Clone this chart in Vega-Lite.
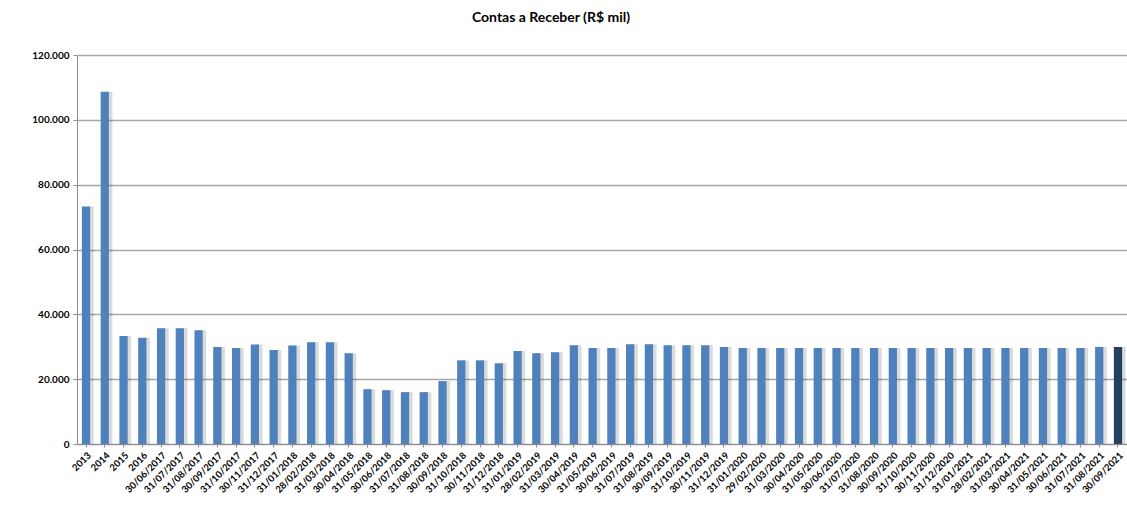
{
  "$schema": "https://vega.github.io/schema/vega-lite/v6.json",
  "width": 1050,
  "height": 389,
  "autosize": {"type": "none"},
  "padding": {"left": 77, "top": 55, "right": 0, "bottom": 85},
  "background": "white",
  "title": {
    "text": "Contas a Receber (R$ mil)",
    "font": "Lato",
    "fontSize": 14,
    "fontWeight": "bold",
    "color": "#000000",
    "anchor": "middle",
    "frame": "group",
    "dx": -51,
    "offset": 25
  },
  "data": {
    "values": [
      {"periodo": "2013", "valor": 73300},
      {"periodo": "2014", "valor": 108700},
      {"periodo": "2015", "valor": 33300},
      {"periodo": "2016", "valor": 32800},
      {"periodo": "30/06/2017", "valor": 35700},
      {"periodo": "31/07/2017", "valor": 35700},
      {"periodo": "31/08/2017", "valor": 35100},
      {"periodo": "30/09/2017", "valor": 29900},
      {"periodo": "31/10/2017", "valor": 29600},
      {"periodo": "30/11/2017", "valor": 30700},
      {"periodo": "31/12/2017", "valor": 29000},
      {"periodo": "31/01/2018", "valor": 30400},
      {"periodo": "28/02/2018", "valor": 31400},
      {"periodo": "31/03/2018", "valor": 31400},
      {"periodo": "30/04/2018", "valor": 28000},
      {"periodo": "31/05/2018", "valor": 16900},
      {"periodo": "30/06/2018", "valor": 16600},
      {"periodo": "31/07/2018", "valor": 16000},
      {"periodo": "31/08/2018", "valor": 16000},
      {"periodo": "30/09/2018", "valor": 19400},
      {"periodo": "31/10/2018", "valor": 25800},
      {"periodo": "30/11/2018", "valor": 25800},
      {"periodo": "31/12/2018", "valor": 24900},
      {"periodo": "31/01/2019", "valor": 28700},
      {"periodo": "28/02/2019", "valor": 28000},
      {"periodo": "31/03/2019", "valor": 28300},
      {"periodo": "30/04/2019", "valor": 30500},
      {"periodo": "31/05/2019", "valor": 29600},
      {"periodo": "30/06/2019", "valor": 29600},
      {"periodo": "31/07/2019", "valor": 30800},
      {"periodo": "31/08/2019", "valor": 30800},
      {"periodo": "30/09/2019", "valor": 30500},
      {"periodo": "31/10/2019", "valor": 30500},
      {"periodo": "30/11/2019", "valor": 30500},
      {"periodo": "31/12/2019", "valor": 29900},
      {"periodo": "31/01/2020", "valor": 29600},
      {"periodo": "29/02/2020", "valor": 29600},
      {"periodo": "31/03/2020", "valor": 29600},
      {"periodo": "30/04/2020", "valor": 29600},
      {"periodo": "31/05/2020", "valor": 29600},
      {"periodo": "30/06/2020", "valor": 29600},
      {"periodo": "31/07/2020", "valor": 29600},
      {"periodo": "31/08/2020", "valor": 29600},
      {"periodo": "30/09/2020", "valor": 29600},
      {"periodo": "31/10/2020", "valor": 29600},
      {"periodo": "30/11/2020", "valor": 29600},
      {"periodo": "31/12/2020", "valor": 29600},
      {"periodo": "31/01/2021", "valor": 29600},
      {"periodo": "28/02/2021", "valor": 29600},
      {"periodo": "31/03/2021", "valor": 29600},
      {"periodo": "30/04/2021", "valor": 29600},
      {"periodo": "31/05/2021", "valor": 29600},
      {"periodo": "30/06/2021", "valor": 29600},
      {"periodo": "31/07/2021", "valor": 29600},
      {"periodo": "31/08/2021", "valor": 29900},
      {"periodo": "30/09/2021", "valor": 29900}
    ]
  },
  "encoding": {
    "x": {
      "field": "periodo",
      "type": "nominal",
      "sort": null,
      "title": null,
      "scale": {"paddingInner": 0.56, "paddingOuter": 0.26},
      "axis": {
        "labelAngle": -45,
        "labelFont": "Lato",
        "labelFontSize": 9.5,
        "labelFontWeight": "bold",
        "labelColor": "#000000",
        "labelPadding": 3,
        "domainColor": "#8c8c8c",
        "tickColor": "#8c8c8c",
        "tickSize": 3,
        "grid": false
      }
    },
    "y": {
      "field": "valor",
      "type": "quantitative",
      "title": null,
      "scale": {"domain": [0, 120000], "nice": false},
      "axis": {
        "values": [0, 20000, 40000, 60000, 80000, 100000, 120000],
        "format": ",d",
        "labelFont": "Lato",
        "labelFontSize": 10,
        "labelFontWeight": "bold",
        "labelColor": "#000000",
        "labelPadding": 4,
        "domainColor": "#8c8c8c",
        "tickColor": "#8c8c8c",
        "tickSize": 4,
        "grid": true,
        "gridColor": "#a6a6a6",
        "gridWidth": 1.3
      }
    }
  },
  "layer": [
    {
      "mark": {"type": "bar", "xOffset": 3.5, "color": "#000000", "opacity": 0.14}
    },
    {
      "mark": {"type": "bar"},
      "encoding": {
        "color": {
          "condition": {"test": "datum.periodo === '30/09/2021'", "value": "#243F60"},
          "value": "#4F81BD"
        }
      }
    }
  ],
  "config": {
    "locale": {
      "number": {"decimal": ",", "thousands": ".", "grouping": [3], "currency": ["R$ ", ""]}
    },
    "view": {"stroke": null}
  }
}
